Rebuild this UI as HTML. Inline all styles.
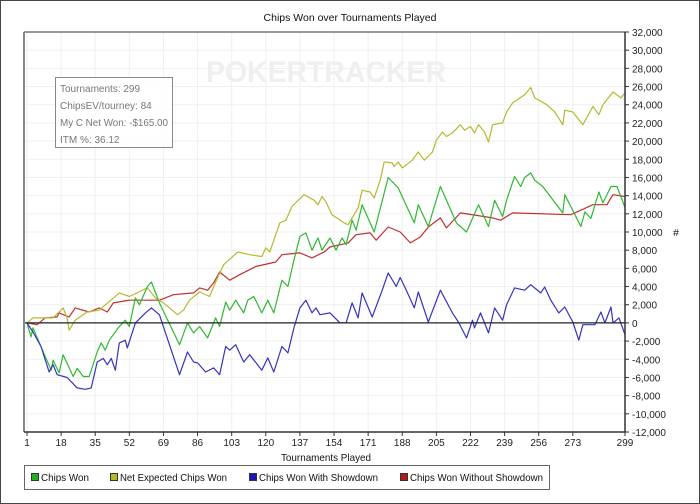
<!DOCTYPE html>
<html><head><meta charset="utf-8">
<style>
html,body{margin:0;padding:0;background:#fff;}
#wrap{position:relative;width:700px;height:504px;overflow:hidden;}
svg text{font-family:"Liberation Sans",sans-serif;}
</style></head>
<body>
<div id="wrap">
<svg id="chart" width="700" height="504" xmlns="http://www.w3.org/2000/svg">
<rect x="0.5" y="0.5" width="699" height="503" fill="#fff" stroke="#444"/>
<text x="350" y="21" font-size="10.5" text-anchor="middle" fill="#111">Chips Won over Tournaments Played</text>
<g id="grid"></g>
<text x="206" y="82" font-size="30" font-weight="bold" fill="#efefef" textLength="240" lengthAdjust="spacingAndGlyphs">POKERTRACKER</text>
<g id="series"></g>
<g id="axes"></g>
<g>
<rect x="55.5" y="77.5" width="117" height="70" fill="#fff" fill-opacity="0.85" stroke="#888"/>
<text x="60" y="92" font-size="10" fill="#777">Tournaments: 299</text>
<text x="60" y="109" font-size="10" fill="#777">ChipsEV/tourney: 84</text>
<text x="60" y="126" font-size="10" fill="#777" textLength="108" lengthAdjust="spacingAndGlyphs">My C Net Won: -$165.00</text>
<text x="60" y="143" font-size="10" fill="#777">ITM %: 36.12</text>
</g>
<text x="326" y="461" font-size="10.5" text-anchor="middle" fill="#111" textLength="90" lengthAdjust="spacingAndGlyphs">Tournaments Played</text>
<text x="676" y="236" font-size="10.5" text-anchor="middle" fill="#111">#</text>
<g>
<rect x="24.5" y="465.5" width="525" height="24" fill="#fff" stroke="#666"/>
<g><rect x="31.5" y="473.5" width="7" height="7" fill="#22b022" stroke="#333"/><text x="41" y="481" font-size="10.5" fill="#111" textLength="48" lengthAdjust="spacingAndGlyphs">Chips Won</text></g>
<g><rect x="110.5" y="473.5" width="7" height="7" fill="#b8b820" stroke="#333"/><text x="120" y="481" font-size="10.5" fill="#111" textLength="107" lengthAdjust="spacingAndGlyphs">Net Expected Chips Won</text></g>
<g><rect x="249.5" y="473.5" width="7" height="7" fill="#1a1ab0" stroke="#333"/><text x="259" y="481" font-size="10.5" fill="#111" textLength="119" lengthAdjust="spacingAndGlyphs">Chips Won With Showdown</text></g>
<g><rect x="400.5" y="473.5" width="7" height="7" fill="#b01a1a" stroke="#333"/><text x="410" y="481" font-size="10.5" fill="#111" textLength="133" lengthAdjust="spacingAndGlyphs">Chips Won Without Showdown</text></g>
</g>
</svg>
</div>
<script>
// ---- data (values in thousands of chips) ----
const xTicks = [1,18,35,52,69,86,103,120,137,154,171,188,205,222,239,256,273,299];
const yTicks = [-12,-10,-8,-6,-4,-2,0,2,4,6,8,10,12,14,16,18,20,22,24,26,28,30,32];
const greenT = [1,3,4,13,14,17,19,24,26,29,32,36,38,40,42,47,50,52,55,57,61,63,67,77,81,84,87,91,95,97,100,102,105,109,111,114,118,121,124,128,131,134,137,140,143,146,148,152,155,158,160,163,165,168,174,181,186,194,196,201,207,215,220,226,231,234,238,240,244,247,249,252,254,258,268,269,277,279,282,286,288,292,295,299];
const greenV = [0,-1.54,-0.55,-5.2,-4.1,-5.5,-3.5,-5.9,-5.0,-5.9,-5.9,-3.2,-2.2,-3.0,-1.9,-0.4,0.3,-0.4,2.75,2.0,4.0,4.5,2.2,-2.4,0,-1.1,-0.4,-1.65,0.55,-0.4,2.3,1.4,2.5,1.1,2.5,2.9,1.1,2.5,1.1,4.7,4.0,6.9,9.5,9.9,8.0,9.35,8.0,9.35,8.0,9.35,8.6,11.3,10.2,13.0,10.0,16.0,14.85,11.0,13.0,10.6,15.0,11.0,10.0,13.0,10.6,13.5,11.7,13.5,16.1,15.0,16.0,16.5,15.7,15.0,12.1,14.1,10.6,12.2,11.5,14.4,13.2,15.0,15.0,12.7];
const yellowT = [1,4,14,19,21,22,25,31,37,47,52,61,65,69,76,79,82,87,92,96,99,106,112,118,120,122,127,130,133,139,144,146,148,150,153,159,161,166,168,172,174,177,179,183,184,186,188,193,196,199,203,205,208,210,213,217,219,222,224,226,229,231,233,238,240,243,249,252,254,260,264,268,269,273,278,283,286,288,293,297,299];
const yellowV = [0,0.55,0.55,1.65,0.55,-0.8,0.3,1.2,1.4,3.3,2.9,3.85,2.75,2.2,0.9,1.4,2.5,3.4,2.9,5.0,6.4,7.8,7.5,7.3,8.25,7.8,11.0,11.3,12.8,14.1,13.5,13.0,13.9,13.3,11.9,11.0,10.8,12.65,14.6,14.4,13.75,15.7,17.7,17.6,17.2,17.7,17.05,17.9,18.8,17.9,18.8,20.1,21.0,20.5,20.9,21.8,21.2,21.6,20.9,21.8,21.0,19.9,21.8,22.0,23.2,24.2,25.1,25.9,24.75,24.0,23.2,21.8,23.4,23.2,21.8,23.8,22.9,24.0,25.4,24.75,25.3];
const blueT = [1,4,8,12,14,16,21,26,30,33,36,39,41,43,45,47,50,51,55,60,63,67,77,81,84,86,90,94,97,100,102,105,109,112,118,121,124,128,131,134,137,140,143,145,147,152,157,160,163,166,168,173,178,181,185,187,190,194,196,201,207,213,216,220,223,224,227,231,234,238,240,244,249,252,257,259,262,266,269,273,276,278,284,287,289,292,293,296,299];
const blueV = [0,-1.0,-2.6,-5.4,-4.6,-5.7,-6.0,-7.15,-7.3,-7.15,-4.3,-3.9,-4.6,-3.9,-5.2,-2.2,-1.9,-2.75,0,1.1,1.65,0.9,-5.7,-3.2,-4.3,-4.4,-5.4,-4.95,-5.7,-2.6,-3.0,-2.4,-4.3,-3.5,-5.2,-3.85,-5.4,-2.6,-3.3,-0.55,1.65,2.5,1.1,1.65,0.9,1.1,0,0,2.2,0.55,3.3,0.65,3.6,5.5,4.0,5.0,3.6,1.65,3.4,0.1,3.6,1.1,0.1,-1.65,0.3,-0.55,1.1,-1.1,1.65,0.3,2.0,3.85,3.6,4.2,3.3,3.95,2.5,1.1,1.75,0.1,-1.9,-0.2,-0.2,1.2,0,1.75,0,0.55,-1.3];
const redT = [1,6,10,16,17,22,25,32,37,41,44,52,67,74,84,87,91,94,97,102,107,115,125,128,137,143,149,152,161,165,172,175,181,187,192,197,201,207,210,217,233,237,243,272,277,283,290,293,299];
const redV = [0,-0.2,0.55,0.65,1.1,0.65,1.65,1.2,1.65,1.2,2.2,2.5,2.5,3.1,3.3,3.85,3.6,4.4,5.6,4.7,5.3,6.2,6.7,7.5,7.7,7.15,7.8,8.35,8.8,9.7,9.9,9.1,10.55,10.0,8.8,9.45,10.55,11.55,10.45,12.1,11.55,11.3,12.1,11.9,12.4,13.0,13.0,14.1,13.9];

// ---- axis functions ----
const PL=24, PR=625, PT=32, PB=432;
const xS = t => 27 + (t-1)*(598/298);
const yS = v => PT + (32 - v)*(PB-PT)/44;
const NS='http://www.w3.org/2000/svg';
function mk(tag, attrs, parent){const e=document.createElementNS(NS,tag);for(const k in attrs)e.setAttribute(k,attrs[k]);parent.appendChild(e);return e;}

const grid=document.getElementById('grid');
yTicks.forEach(v=>{
  const l=mk('line',{x1:PL,x2:PR,y1:yS(v),y2:yS(v),stroke:'#efefef','stroke-width':1},grid);
  
  
});
xTicks.forEach(t=>{
  const l=mk('line',{x1:xS(t),x2:xS(t),y1:PT,y2:PB,stroke:'#efefef','stroke-width':1},grid);
  
  
});

const axes=document.getElementById('axes');
let a=mk('line',{x1:PL,x2:PR,y1:yS(0),y2:yS(0),stroke:'#222','stroke-width':1.2},axes);


a=mk('line',{x1:PL,x2:PR,y1:PT,y2:PT,stroke:'#777','stroke-width':1.5},axes);


a=mk('line',{x1:PL,x2:PL,y1:PT,y2:PB,stroke:'#888','stroke-width':2},axes);


a=mk('line',{x1:PL,x2:PR+1,y1:PB,y2:PB,stroke:'#333','stroke-width':1.5},axes);


a=mk('line',{x1:PR,x2:PR,y1:PT,y2:PB,stroke:'#333','stroke-width':1.5},axes);


yTicks.forEach(v=>{
  const tk=mk('line',{x1:PR,x2:PR+4,y1:yS(v),y2:yS(v),stroke:'#333'},axes);
  
  
  const tx=mk('text',{x:PR+7,y:yS(v)+4,'font-size':10,fill:'#222'},axes);
  tx.textContent=(v<0?'-':'')+(Math.abs(v)===0?'0':Math.abs(v)+',000');
  
  
});
xTicks.forEach(t=>{
  const tk=mk('line',{x1:xS(t),x2:xS(t),y1:PB,y2:PB+4,stroke:'#333'},axes);
  
  
  const tx=mk('text',{x:xS(t),y:PB+14,'font-size':10,'text-anchor':'middle',fill:'#222'},axes);
  tx.textContent=t;
  
  
});

const sg=document.getElementById('series');
function drawLine(T,V,color,name){
  const d=T.map((t,i)=>(i?'L':'M')+xS(t).toFixed(1)+' '+yS(V[i]).toFixed(1)).join(' ');
  const p=mk('path',{d:d,fill:'none',stroke:color,'stroke-width':1.2,'stroke-linejoin':'round'},sg);
  
  
}
drawLine(redT,redV,'#c03030','line-chips-won-without-showdown');
drawLine(yellowT,yellowV,'#b8b830','line-net-expected-chips-won');
drawLine(greenT,greenV,'#30b830','line-chips-won');
drawLine(blueT,blueV,'#3434c0','line-chips-won-with-showdown');
</script>
</body></html>
